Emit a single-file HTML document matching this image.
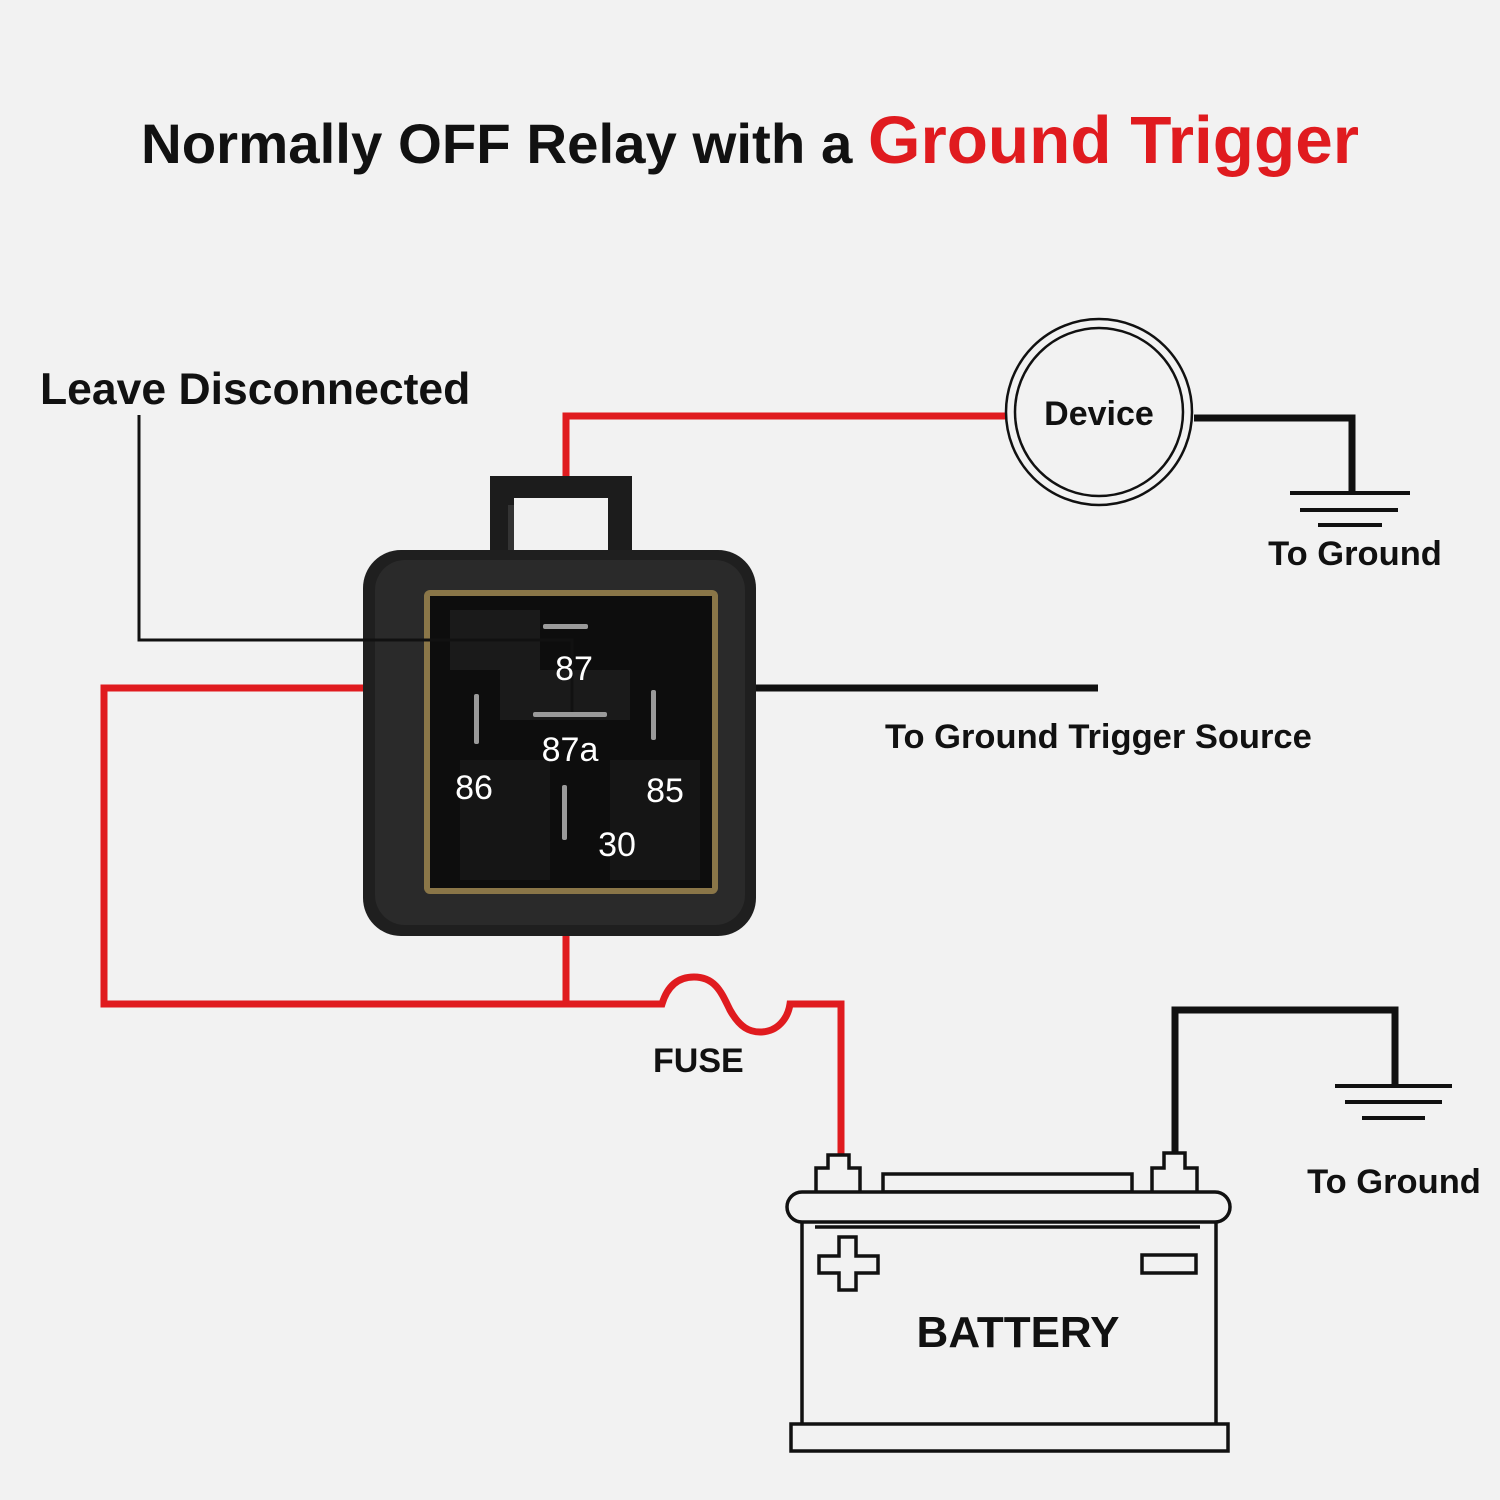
<!DOCTYPE html>
<html><head><style>html,body{margin:0;padding:0;background:#f2f2f2}svg{display:block}</style></head>
<body>
<svg width="1500" height="1500" viewBox="0 0 1500 1500" xmlns="http://www.w3.org/2000/svg" font-family="Liberation Sans, sans-serif">
<rect width="1500" height="1500" fill="#f2f2f2"/>
<text x="750" y="163" text-anchor="middle" font-weight="bold" font-size="56" fill="#111" textLength="1218" lengthAdjust="spacingAndGlyphs">Normally OFF Relay with a <tspan fill="#e01b1f" font-size="67">Ground Trigger</tspan></text>

<!-- red wires -->
<g fill="none" stroke="#e01b1f" stroke-width="7">
<path d="M566 478 V416 H1006"/>
<path d="M363 688 H104 V1004 H662 C668 984 680 977 694 977 C716 977 722 994 730 1010 C740 1028 750 1032 760 1032 C778 1032 788 1018 790 1004 H841 V1162"/>
<path d="M566 932 V1004"/>
</g>
<!-- black wires -->
<g fill="none" stroke="#111" stroke-width="7">
<path d="M1194 418 H1352 V492"/>
<path d="M755 688 H1098"/>
<path d="M1175 1160 V1010 H1395 V1086"/>
</g>
<g stroke="#111" stroke-width="4">
<line x1="1290" y1="493" x2="1410" y2="493"/><line x1="1300" y1="510" x2="1398" y2="510"/><line x1="1318" y1="525" x2="1382" y2="525"/>
<line x1="1335" y1="1086" x2="1452" y2="1086"/><line x1="1345" y1="1102" x2="1442" y2="1102"/><line x1="1362" y1="1118" x2="1425" y2="1118"/>
</g>

<!-- device -->
<circle cx="1099" cy="412" r="93" fill="#f2f2f2" stroke="#111" stroke-width="2.5"/>
<circle cx="1099" cy="412" r="84" fill="none" stroke="#111" stroke-width="2.5"/>
<text x="1099" y="425" text-anchor="middle" font-size="34" font-weight="600" fill="#111">Device</text>

<text x="1355" y="565" text-anchor="middle" font-size="34.5" font-weight="600" fill="#111">To Ground</text>
<text x="1394" y="1193" text-anchor="middle" font-size="34.5" font-weight="600" fill="#111">To Ground</text>
<text x="40" y="404" font-size="44.5" font-weight="600" fill="#111">Leave Disconnected</text>
<text x="885" y="748" font-size="34.5" font-weight="600" fill="#111">To Ground Trigger Source</text>
<text x="653" y="1072" font-size="34" font-weight="600" fill="#111">FUSE</text>

<!-- relay -->
<rect x="490" y="476" width="142" height="90" fill="#1c1c1c"/>
<rect x="514" y="498" width="94" height="60" fill="#f2f2f2"/>
<rect x="508" y="505" width="6" height="45" fill="#333"/>
<rect x="363" y="550" width="393" height="386" rx="38" fill="#1f1f1f"/>
<rect x="375" y="560" width="370" height="365" rx="30" fill="#2a2a2a"/>
<rect x="424" y="590" width="294" height="304" rx="6" fill="#8a7648"/>
<rect x="430" y="596" width="282" height="292" fill="#0d0d0d"/>
<rect x="450" y="610" width="90" height="60" fill="#1a1a1a"/>
<rect x="460" y="760" width="90" height="120" fill="#151515"/>
<rect x="610" y="760" width="90" height="120" fill="#151515"/>
<rect x="500" y="670" width="130" height="50" fill="#1a1a1a"/>
<g fill="#9a9a9a">
<rect x="543" y="624" width="45" height="5" rx="2"/>
<rect x="533" y="712" width="74" height="5" rx="2"/>
<rect x="474" y="694" width="5" height="50" rx="2"/>
<rect x="651" y="690" width="5" height="50" rx="2"/>
<rect x="562" y="785" width="5" height="55" rx="2"/>
</g>
<g fill="none" stroke="#111" stroke-width="3"><path d="M139 415 V640 H572 V712"/></g>
<g fill="#fff" font-size="34" text-anchor="middle">
<text x="574" y="680">87</text>
<text x="570" y="761">87a</text>
<text x="474" y="799">86</text>
<text x="665" y="802">85</text>
<text x="617" y="856">30</text>
</g>

<!-- battery -->
<g fill="#f2f2f2" stroke="#111" stroke-width="3.5">
<path d="M816 1191 V1168 H828 V1155 H849 V1168 H860 V1191"/>
<path d="M1152 1191 V1168 H1164 V1153 H1185 V1168 H1197 V1191"/>
<rect x="883" y="1174" width="249" height="18"/>
<rect x="802" y="1220" width="414" height="205"/>
<rect x="787" y="1192" width="443" height="30" rx="15"/>
<rect x="791" y="1424" width="437" height="27"/>
<path d="M815 1227 H1200"/>
<path d="M839 1237 H856 V1256 H878 V1273 H856 V1290 H839 V1273 H819 V1256 H839 Z"/>
<rect x="1142" y="1255" width="54" height="18"/>
</g>
<text x="1018" y="1347" text-anchor="middle" font-size="44" font-weight="bold" fill="#111">BATTERY</text>
</svg>
</body></html>
